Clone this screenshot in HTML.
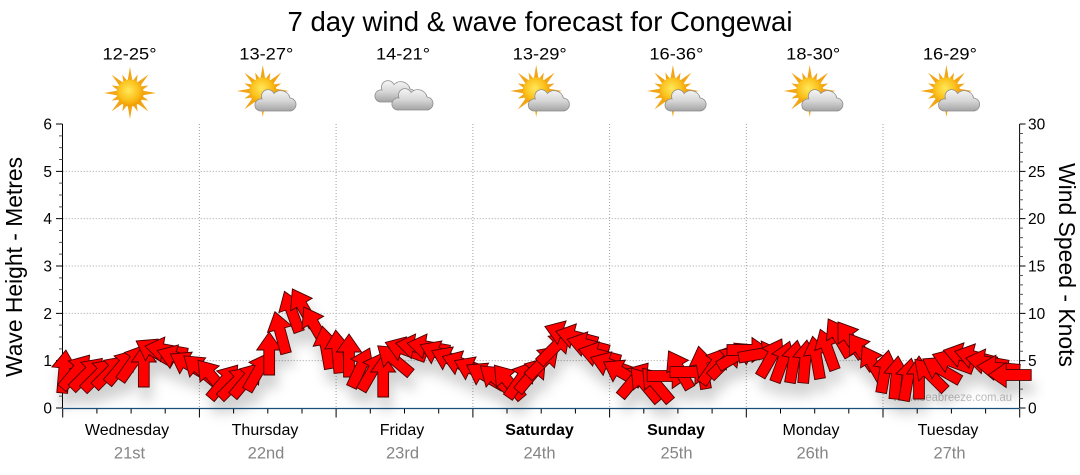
<!DOCTYPE html>
<html><head><meta charset="utf-8"><style>
html,body{margin:0;padding:0;background:#fff;}
svg{display:block;}
text{font-family:"Liberation Sans",Arial,sans-serif;}
</style></head><body>
<svg width="1080" height="475" viewBox="0 0 1080 475" xmlns="http://www.w3.org/2000/svg">
<defs>
<radialGradient id="sg" cx="45%" cy="40%" r="60%"><stop offset="0" stop-color="#FFE85A"/><stop offset="0.6" stop-color="#FBC21E"/><stop offset="1" stop-color="#F29A00"/></radialGradient>
<linearGradient id="cg" x1="0" y1="0" x2="0" y2="1"><stop offset="0" stop-color="#f6f6f6"/><stop offset="0.55" stop-color="#d4d4d4"/><stop offset="1" stop-color="#a4a4a4"/></linearGradient>
<g id="sun">
<g fill="#F2A516">
<polygon points="0,-26 2.6,-11 -2.6,-11"/>
<polygon points="0,-26 2.6,-11 -2.6,-11" transform="rotate(45)"/>
<polygon points="0,-26 2.6,-11 -2.6,-11" transform="rotate(90)"/>
<polygon points="0,-26 2.6,-11 -2.6,-11" transform="rotate(135)"/>
<polygon points="0,-26 2.6,-11 -2.6,-11" transform="rotate(180)"/>
<polygon points="0,-26 2.6,-11 -2.6,-11" transform="rotate(225)"/>
<polygon points="0,-26 2.6,-11 -2.6,-11" transform="rotate(270)"/>
<polygon points="0,-26 2.6,-11 -2.6,-11" transform="rotate(315)"/>
<polygon points="0,-20 2.4,-11 -2.4,-11" transform="rotate(22.5)"/>
<polygon points="0,-20 2.4,-11 -2.4,-11" transform="rotate(67.5)"/>
<polygon points="0,-20 2.4,-11 -2.4,-11" transform="rotate(112.5)"/>
<polygon points="0,-20 2.4,-11 -2.4,-11" transform="rotate(157.5)"/>
<polygon points="0,-20 2.4,-11 -2.4,-11" transform="rotate(202.5)"/>
<polygon points="0,-20 2.4,-11 -2.4,-11" transform="rotate(247.5)"/>
<polygon points="0,-20 2.4,-11 -2.4,-11" transform="rotate(292.5)"/>
<polygon points="0,-20 2.4,-11 -2.4,-11" transform="rotate(337.5)"/>
</g>
<circle r="13.5" fill="url(#sg)"/>
</g>
<path id="cloud" d="M6,25 H35 A6.5,6.5 0 0 0 36,12 A9.5,9.5 0 0 0 20,7.5 A6.5,6.5 0 0 0 8,13 A6,6 0 0 0 6,25 Z" fill="url(#cg)" stroke="#8c8c8c" stroke-width="0.8"/>
<path id="a" d="M0,-22 L12.5,-4 L5.4,-4 L5.4,21 L-5.4,21 L-5.4,-4 L-12.5,-4 Z" fill="#ff0000" stroke="#4a0606" stroke-width="0.9" stroke-linejoin="miter"/>
<filter id="sh" x="-10%" y="-40%" width="120%" height="200%">
<feGaussianBlur in="SourceAlpha" stdDeviation="6"/>
<feOffset dx="3" dy="13" result="b"/>
<feFlood flood-color="#000" flood-opacity="0.18"/>
<feComposite in2="b" operator="in"/>
<feMerge><feMergeNode/><feMergeNode in="SourceGraphic"/></feMerge>
</filter>
</defs>

<rect width="1080" height="475" fill="#fff"/>

<text x="540" y="31" font-size="28" text-anchor="middle" textLength="505" lengthAdjust="spacingAndGlyphs" fill="#000">7 day wind &amp; wave forecast for Congewai</text>

<g font-size="17" fill="#000" text-anchor="middle">
<text x="129.5" y="59.5" textLength="54" lengthAdjust="spacingAndGlyphs">12-25°</text>
<text x="266.3" y="59.5" textLength="54" lengthAdjust="spacingAndGlyphs">13-27°</text>
<text x="403" y="59.5" textLength="54" lengthAdjust="spacingAndGlyphs">14-21°</text>
<text x="539.7" y="59.5" textLength="54" lengthAdjust="spacingAndGlyphs">13-29°</text>
<text x="676.4" y="59.5" textLength="54" lengthAdjust="spacingAndGlyphs">16-36°</text>
<text x="813.2" y="59.5" textLength="54" lengthAdjust="spacingAndGlyphs">18-30°</text>
<text x="949.9" y="59.5" textLength="54" lengthAdjust="spacingAndGlyphs">16-29°</text>
</g>

<use href="#sun" x="130" y="93"/>
<use href="#sun" x="262.8" y="91"/><use href="#cloud" x="254" y="86"/>
<use href="#cloud" x="374" y="77"/><use href="#cloud" x="391" y="85"/>
<use href="#sun" x="536.2" y="91"/><use href="#cloud" x="527.4" y="86"/>
<use href="#sun" x="672.9" y="91"/><use href="#cloud" x="664.1" y="86"/>
<use href="#sun" x="809.7" y="91"/><use href="#cloud" x="800.9" y="86"/>
<use href="#sun" x="946.4" y="91"/><use href="#cloud" x="937.6" y="86"/>

<g stroke="#a0a0a0" stroke-width="1" stroke-dasharray="1,2" fill="none">
<path d="M62.7,360.67H1019.6M62.7,313.33H1019.6M62.7,266H1019.6M62.7,218.67H1019.6M62.7,171.33H1019.6"/>
<path d="M199.4,124V408M336.1,124V408M472.9,124V408M609.6,124V408M746.3,124V408M883,124V408"/>
</g>

<g stroke="#000" stroke-width="1" fill="none">
<path d="M62.5,124V408"/>
<path d="M56,408H62.5M56,360.67H62.5M56,313.33H62.5M56,266H62.5M56,218.67H62.5M56,171.33H62.5M56,124H62.5"/>
<path stroke="#555" d="M59,396.17H62.5M59,384.33H62.5M59,372.5H62.5M59,348.83H62.5M59,337H62.5M59,325.17H62.5M59,301.5H62.5M59,289.67H62.5M59,277.83H62.5M59,254.17H62.5M59,242.33H62.5M59,230.5H62.5M59,206.83H62.5M59,195H62.5M59,183.17H62.5M59,159.5H62.5M59,147.67H62.5M59,135.83H62.5"/>
</g>
<g font-size="15.5" fill="#000" text-anchor="end">
<text x="52" y="413.5">0</text>
<text x="52" y="366.2">1</text>
<text x="52" y="318.8">2</text>
<text x="52" y="271.5">3</text>
<text x="52" y="224.2">4</text>
<text x="52" y="176.8">5</text>
<text x="52" y="129.5">6</text>
</g>

<g stroke="#000" stroke-width="1" fill="none">
<path d="M1019.6,124V408"/>
<path d="M1019.6,408H1025.5M1019.6,360.67H1025.5M1019.6,313.33H1025.5M1019.6,266H1025.5M1019.6,218.67H1025.5M1019.6,171.33H1025.5M1019.6,124H1025.5"/>
<path stroke="#555" d="M1019.6,398.53H1023M1019.6,389.07H1023M1019.6,379.6H1023M1019.6,370.13H1023M1019.6,351.2H1023M1019.6,341.73H1023M1019.6,332.27H1023M1019.6,322.8H1023M1019.6,303.87H1023M1019.6,294.4H1023M1019.6,284.93H1023M1019.6,275.47H1023M1019.6,256.53H1023M1019.6,247.07H1023M1019.6,237.6H1023M1019.6,228.13H1023M1019.6,209.2H1023M1019.6,199.73H1023M1019.6,190.27H1023M1019.6,180.8H1023M1019.6,161.87H1023M1019.6,152.4H1023M1019.6,142.93H1023M1019.6,133.47H1023"/>
</g>
<g font-size="15.5" fill="#000" text-anchor="start">
<text x="1028" y="413.5">0</text>
<text x="1028" y="366.2">5</text>
<text x="1028" y="318.8">10</text>
<text x="1028" y="271.5">15</text>
<text x="1028" y="224.2">20</text>
<text x="1028" y="176.8">25</text>
<text x="1028" y="129.5">30</text>
</g>

<text transform="translate(22,267) rotate(-90)" font-size="23" text-anchor="middle" textLength="220" lengthAdjust="spacingAndGlyphs" fill="#000">Wave Height - Metres</text>
<text transform="translate(1059,265) rotate(90)" font-size="23" text-anchor="middle" textLength="204" lengthAdjust="spacingAndGlyphs" fill="#000">Wind Speed - Knots</text>

<text x="893" y="401" font-size="12" fill="#bdbdbd" textLength="119" lengthAdjust="spacingAndGlyphs">www.seabreeze.com.au</text>

<g filter="url(#sh)">
<use href="#a" transform="translate(64,372) rotate(5)"/>
<use href="#a" transform="translate(75.4,372) rotate(40)"/>
<use href="#a" transform="translate(86.8,374) rotate(45)"/>
<use href="#a" transform="translate(98.2,375) rotate(45)"/>
<use href="#a" transform="translate(109.6,372) rotate(45)"/>
<use href="#a" transform="translate(121,367) rotate(40)"/>
<use href="#a" transform="translate(132.4,363) rotate(35)"/>
<use href="#a" transform="translate(143.8,366) rotate(0)"/>
<use href="#a" transform="translate(155.2,352) rotate(300)"/>
<use href="#a" transform="translate(166.6,350) rotate(280)"/>
<use href="#a" transform="translate(178,358) rotate(290)"/>
<use href="#a" transform="translate(189.4,365) rotate(300)"/>
<use href="#a" transform="translate(200.8,370) rotate(310)"/>
<use href="#a" transform="translate(212.2,377) rotate(320)"/>
<use href="#a" transform="translate(223.6,382) rotate(40)"/>
<use href="#a" transform="translate(235,383) rotate(45)"/>
<use href="#a" transform="translate(246.4,380) rotate(40)"/>
<use href="#a" transform="translate(257.8,372) rotate(30)"/>
<use href="#a" transform="translate(269.2,354) rotate(0)"/>
<use href="#a" transform="translate(280.6,333) rotate(345)"/>
<use href="#a" transform="translate(292,312) rotate(340)"/>
<use href="#a" transform="translate(303.4,308) rotate(330)"/>
<use href="#a" transform="translate(314.8,326) rotate(330)"/>
<use href="#a" transform="translate(326.2,348) rotate(350)"/>
<use href="#a" transform="translate(337.6,352) rotate(355)"/>
<use href="#a" transform="translate(349,356) rotate(0)"/>
<use href="#a" transform="translate(360.4,368) rotate(25)"/>
<use href="#a" transform="translate(371.8,372) rotate(30)"/>
<use href="#a" transform="translate(383.2,376) rotate(0)"/>
<use href="#a" transform="translate(394.6,360) rotate(310)"/>
<use href="#a" transform="translate(406,350) rotate(290)"/>
<use href="#a" transform="translate(417.4,347) rotate(280)"/>
<use href="#a" transform="translate(428.8,347) rotate(280)"/>
<use href="#a" transform="translate(440.2,354) rotate(295)"/>
<use href="#a" transform="translate(451.6,360) rotate(295)"/>
<use href="#a" transform="translate(463,364) rotate(290)"/>
<use href="#a" transform="translate(474.4,370) rotate(295)"/>
<use href="#a" transform="translate(485.8,376) rotate(300)"/>
<use href="#a" transform="translate(497.2,380) rotate(310)"/>
<use href="#a" transform="translate(508.6,382) rotate(320)"/>
<use href="#a" transform="translate(520,380) rotate(35)"/>
<use href="#a" transform="translate(531.4,375) rotate(40)"/>
<use href="#a" transform="translate(542.8,362) rotate(45)"/>
<use href="#a" transform="translate(554.2,348) rotate(45)"/>
<use href="#a" transform="translate(565.6,334) rotate(290)"/>
<use href="#a" transform="translate(577,337) rotate(285)"/>
<use href="#a" transform="translate(588.4,345) rotate(285)"/>
<use href="#a" transform="translate(599.8,355) rotate(285)"/>
<use href="#a" transform="translate(611.2,365) rotate(290)"/>
<use href="#a" transform="translate(622.6,373) rotate(300)"/>
<use href="#a" transform="translate(634,380) rotate(40)"/>
<use href="#a" transform="translate(645.4,385) rotate(320)"/>
<use href="#a" transform="translate(656.8,385) rotate(320)"/>
<use href="#a" transform="translate(668.2,376) rotate(90)"/>
<use href="#a" transform="translate(679.6,370) rotate(330)"/>
<use href="#a" transform="translate(691,372) rotate(90)"/>
<use href="#a" transform="translate(702.4,368) rotate(350)"/>
<use href="#a" transform="translate(713.8,366) rotate(35)"/>
<use href="#a" transform="translate(725.2,362) rotate(45)"/>
<use href="#a" transform="translate(736.6,356) rotate(60)"/>
<use href="#a" transform="translate(748,350) rotate(90)"/>
<use href="#a" transform="translate(759.4,354) rotate(80)"/>
<use href="#a" transform="translate(770.8,358) rotate(30)"/>
<use href="#a" transform="translate(782.2,362) rotate(20)"/>
<use href="#a" transform="translate(793.6,362) rotate(10)"/>
<use href="#a" transform="translate(805,362) rotate(5)"/>
<use href="#a" transform="translate(816.4,358) rotate(350)"/>
<use href="#a" transform="translate(827.8,350) rotate(340)"/>
<use href="#a" transform="translate(839.2,338) rotate(330)"/>
<use href="#a" transform="translate(850.6,340) rotate(325)"/>
<use href="#a" transform="translate(862,352) rotate(325)"/>
<use href="#a" transform="translate(873.4,365) rotate(330)"/>
<use href="#a" transform="translate(884.8,372) rotate(10)"/>
<use href="#a" transform="translate(896.2,378) rotate(5)"/>
<use href="#a" transform="translate(907.6,380) rotate(10)"/>
<use href="#a" transform="translate(919,378) rotate(0)"/>
<use href="#a" transform="translate(930.4,375) rotate(315)"/>
<use href="#a" transform="translate(941.8,370) rotate(300)"/>
<use href="#a" transform="translate(953.2,362) rotate(290)"/>
<use href="#a" transform="translate(964.6,356) rotate(285)"/>
<use href="#a" transform="translate(976,357) rotate(285)"/>
<use href="#a" transform="translate(987.4,362) rotate(280)"/>
<use href="#a" transform="translate(998.8,368) rotate(275)"/>
<use href="#a" transform="translate(1010.2,375) rotate(270)"/>
</g>

<path d="M62.5,408.5H1019.6" stroke="#174f78" stroke-width="1.3" fill="none"/>
<g stroke="#000" stroke-width="1" fill="none">
<path d="M62.7,409V417.5M199.4,409V417.5M336.1,409V417.5M472.9,409V417.5M609.6,409V417.5M746.3,409V417.5M883,409V417.5M1019.7,409V417.5"/>
<path d="M96.9,409V413.5M131.1,409V413.5M165.2,409V413.5M233.6,409V413.5M267.8,409V413.5M302,409V413.5M370.3,409V413.5M404.5,409V413.5M438.7,409V413.5M507,409V413.5M541.2,409V413.5M575.4,409V413.5M643.8,409V413.5M677.9,409V413.5M712.1,409V413.5M780.5,409V413.5M814.7,409V413.5M848.8,409V413.5M917.2,409V413.5M951.4,409V413.5M985.6,409V413.5"/>
</g>

<g font-size="16" fill="#000" text-anchor="middle">
<text x="127" y="435">Wednesday</text>
<text x="265" y="435">Thursday</text>
<text x="402" y="435">Friday</text>
<text x="539.5" y="435" font-weight="bold">Saturday</text>
<text x="676" y="435" font-weight="bold">Sunday</text>
<text x="811" y="435">Monday</text>
<text x="948" y="435">Tuesday</text>
</g>
<g font-size="16.5" fill="#858585" text-anchor="middle" style="font-family:'DejaVu Sans',Verdana,sans-serif">
<text x="129.5" y="458.5">21st</text>
<text x="266" y="458.5">22nd</text>
<text x="402.5" y="458.5">23rd</text>
<text x="539.5" y="458.5">24th</text>
<text x="676.5" y="458.5">25th</text>
<text x="812.5" y="458.5">26th</text>
<text x="949.5" y="458.5">27th</text>
</g>
</svg>
</body></html>
